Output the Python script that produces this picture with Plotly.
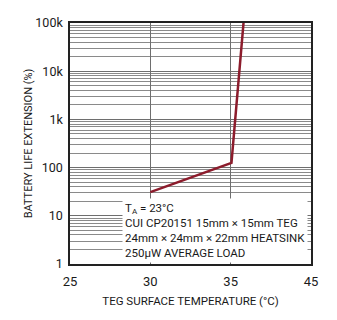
import plotly.graph_objects as go

temps = [30, 35.05, 35.8]
extension = [31, 125, 100000]
x_tick_vals = [25, 30, 35, 40]
x_tick_text = ["25", "30", "35", "45"]
y_tick_vals = [1, 10, 100, 1000, 10000, 100000]
y_tick_text = ["1", "10", "100", "1k", "10k", "100k"]
note_lines = ["T<sub>A</sub> = 23°C", "CUI CP20151 15mm × 15mm TEG",
              "24mm × 24mm × 22mm HEATSINK", "250µW AVERAGE LOAD"]

FONT = "Liberation Sans Narrow, Arial Narrow, Roboto, Liberation Sans, sans-serif"

fig = go.Figure()
fig.add_trace(go.Scatter(x=temps, y=extension, mode="lines",
                         line=dict(color="#8c1c2c", width=2.5), hoverinfo="skip"))

# page body has an 8px margin, so the figure is sized/offset to compensate
fig.update_layout(
    width=329, height=312,
    margin=dict(l=62, r=26, t=15, b=56),
    paper_bgcolor="white", plot_bgcolor="white",
    showlegend=False,
    font=dict(family=FONT, size=12, color="#1a1a1a"),
    xaxis=dict(range=[25, 40], tickvals=x_tick_vals, ticktext=x_tick_text,
               showgrid=True, gridcolor="#6e6e6e", gridwidth=1,
               showline=True, linecolor="#222", linewidth=1.5, mirror=True,
               ticks="", zeroline=False, automargin=False,
               ticklabelstandoff=5, tickfont=dict(size=13),
               title=dict(text="TEG SURFACE TEMPERATURE (°C)", standoff=9,
                          font=dict(size=11.5))),
    yaxis=dict(type="log", range=[0, 5], tickvals=y_tick_vals, ticktext=y_tick_text,
               showgrid=True, gridcolor="#6e6e6e", gridwidth=1,
               minor=dict(dtick="D1", showgrid=True, gridcolor="#8a8a8a", gridwidth=1),
               showline=True, linecolor="#222", linewidth=1.5, mirror=True,
               ticks="", zeroline=False, automargin=False,
               ticklabelstandoff=3, tickfont=dict(size=12.5),
               title=dict(text="BATTERY LIFE EXTENSION (%)", standoff=0,
                          font=dict(size=11))),
)

fig.add_annotation(xref="paper", yref="paper", x=0.215, y=0.275,
                   xanchor="left", yanchor="top", align="left",
                   text="<br>".join(note_lines), showarrow=False,
                   bgcolor="white", borderpad=2,
                   font=dict(family=FONT, size=11.5, color="#1a1a1a"))

fig.write_html("out.html")
